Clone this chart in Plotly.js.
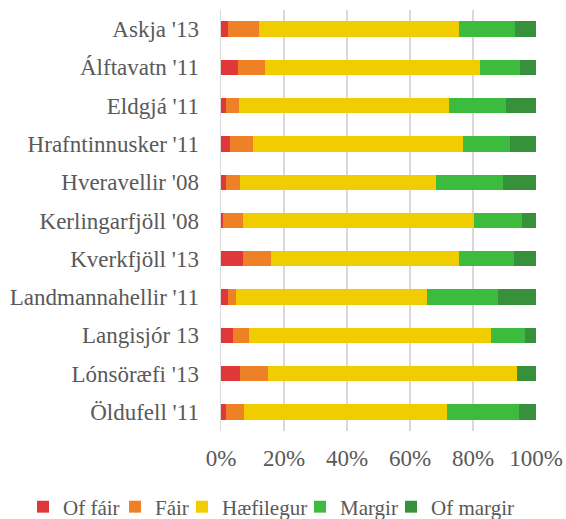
<!DOCTYPE html>
<html>
<head>
<meta charset="utf-8">
<script src="https://cdn.plot.ly/plotly-3.0.1.min.js"></script>
<style>html,body{margin:0;padding:0;background:#fff;}#chart{width:566px;height:519px;}</style>
</head>
<body>
<div id="chart"></div>
<script>
const categories = ["Askja '13", "Álftavatn '11", "Eldgjá '11", "Hrafntinnusker '11", "Hveravellir '08", "Kerlingarfjöll '08", "Kverkfjöll '13", "Landmannahellir '11", "Langisjór 13", "Lónsöræfi '13", "Öldufell '11"];
const seriesNames = ["Of fáir", "Fáir", "Hæfilegur", "Margir", "Of margir"];
const ofFair    = [2.2, 5.5, 1.6, 3.0, 1.6, 0.6, 7.1, 2.2, 3.7, 6.0, 1.6];
const fair      = [10.0, 8.5, 4.2, 7.3, 4.4, 6.5, 8.8, 2.6, 5.3, 9.0, 5.8];
const haefilegur= [63.4, 68.3, 66.7, 66.4, 62.3, 73.3, 59.5, 60.7, 76.6, 79.0, 64.3];
const margir    = [17.6, 12.7, 18.1, 15.1, 21.1, 15.3, 17.6, 22.4, 10.9, 0, 22.8];
const ofMargir  = [6.8, 5.0, 9.4, 8.2, 10.6, 4.3, 7.0, 12.1, 3.5, 6.0, 5.5];
const xTickVals = [0, 20, 40, 60, 80, 100];
const xTickText = ["0%", "20%", "40%", "60%", "80%", "100%"];

const colors = ["#E0373A", "#EE8126", "#F0CC00", "#3DBB3F", "#36913A"];
const allSeries = [ofFair, fair, haefilegur, margir, ofMargir];
const legendIds = ['legend', 'legend2', 'legend3', 'legend4', 'legend5'];
const legendLeft = [23, 115, 182, 300, 391];

const traces = allSeries.map((vals, i) => ({
  type: 'bar',
  orientation: 'h',
  name: seriesNames[i],
  y: categories,
  x: vals,
  legend: legendIds[i],
  marker: {color: colors[i], line: {width: 0}},
  hoverinfo: 'skip'
}));

const fontFam = "Liberation Serif, DejaVu Serif, serif";
const W = 566, H = 519;
const layout = {
  width: W, height: H,
  margin: {l: 221, r: 30, t: 10, b: 88},
  barmode: 'stack',
  bargap: 0.6,
  paper_bgcolor: '#fff', plot_bgcolor: '#fff',
  font: {family: fontFam, size: 22, color: '#595959'},
  showlegend: true,
  xaxis: {
    range: [0, 100], tickvals: xTickVals, ticktext: xTickText,
    showgrid: true, gridcolor: '#D9D9D9', gridwidth: 1.5,
    zeroline: false, showline: false,
    ticks: 'outside', ticklen: 6, tickcolor: 'rgba(0,0,0,0)',
    tickfont: {family: fontFam, size: 23, color: '#595959'},
    fixedrange: true
  },
  yaxis: {
    type: 'category', autorange: 'reversed',
    showline: true, linecolor: '#D9D9D9', linewidth: 1.5,
    showgrid: false, zeroline: false,
    ticks: 'outside', ticklen: 16, tickcolor: 'rgba(0,0,0,0)',
    tickfont: {family: fontFam, size: 23, color: '#595959'},
    fixedrange: true
  }
};
legendIds.forEach((id, i) => {
  layout[id] = {
    orientation: 'h', xref: 'container', yref: 'container',
    x: legendLeft[i] / W, xanchor: 'left', y: (H - 507) / H, yanchor: 'middle',
    font: {family: fontFam, size: 21, color: '#595959'},
    itemwidth: 30, bgcolor: 'rgba(0,0,0,0)', borderwidth: 0
  };
});

Plotly.newPlot('chart', traces, layout, {displayModeBar: false, staticPlot: true});
</script>
</body>
</html>
